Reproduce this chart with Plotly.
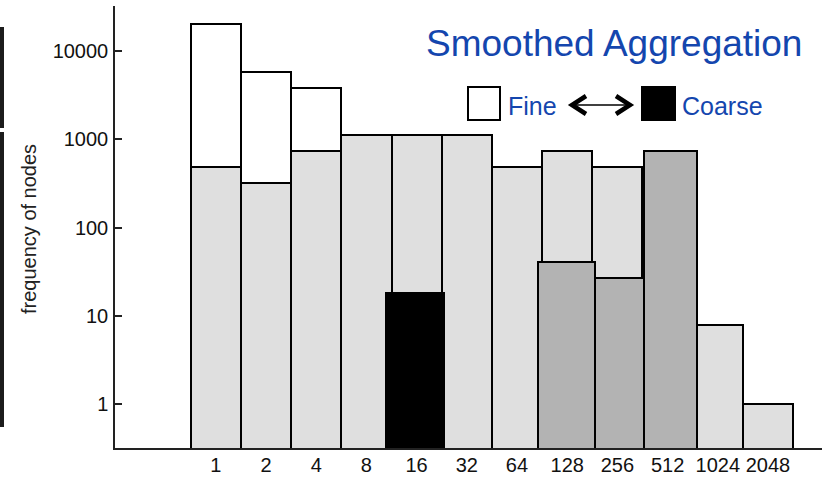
import plotly.graph_objects as go

# ---- data ----
categories = ["1", "2", "4", "8", "16", "32", "64", "128", "256", "512", "1024", "2048"]
fine_cats = ["1", "2", "4"]
fine_vals = [20000, 5800, 3800]
light_vals = [485, 320, 740, 1120, 1120, 1120, 485, 740, 485, 215, 7.8, 1.0]
dark_cats = ["128", "256", "512"]
dark_vals = [41, 27, 740]
coarse_cats = ["16"]
coarse_vals = [18]
ytick_vals = [1, 10, 100, 1000, 10000]
ytick_text = ["1", "10", "100", "1000", "10000"]

# ---- styles ----
dark_offsets = [-0.58, -0.446, -0.47]
dark_widths = [1.135, 0.976, 1.056]
coarse_offsets = [-0.61]
coarse_widths = [1.155]

FONT = "Liberation Sans, Arial, Helvetica, sans-serif"
BLUE = "#1446ae"
idx = {c: i for i, c in enumerate(categories)}

W, H = 827, 477
L, R, T, B = 115, 5, 6, 29
PW, PH = W - L - R, H - T - B


def px(x):
    return (x - L) / PW


def py(y):
    return (H - B - y) / PH


fig = go.Figure()
line = dict(color="black", width=2)
fig.add_trace(go.Bar(x=[idx[c] for c in fine_cats], y=fine_vals, width=1, offset=-0.5,
                     marker=dict(color="white", line=line), showlegend=False))
fig.add_trace(go.Bar(x=list(range(len(categories))), y=light_vals, width=1, offset=-0.5,
                     marker=dict(color="#dfdfdf", line=line), showlegend=False))
fig.add_trace(go.Bar(x=[idx[c] for c in dark_cats], y=dark_vals, width=dark_widths, offset=dark_offsets,
                     marker=dict(color="#b3b3b3", line=line), showlegend=False))
fig.add_trace(go.Bar(x=[idx[c] for c in coarse_cats], y=coarse_vals, width=coarse_widths, offset=coarse_offsets,
                     marker=dict(color="black", line=line), showlegend=False))

shapes = []
# legend squares
shapes.append(dict(type="rect", xref="paper", yref="paper", x0=px(468), x1=px(500), y0=py(120), y1=py(87),
                   line=dict(color="black", width=2), fillcolor="white"))
shapes.append(dict(type="rect", xref="paper", yref="paper", x0=px(642), x1=px(675), y0=py(120), y1=py(87),
                   line=dict(color="black", width=2), fillcolor="black"))
# double arrow
shapes.append(dict(type="line", xref="paper", yref="paper", x0=px(575), x1=px(628), y0=py(105), y1=py(105),
                   line=dict(color="black", width=1.5)))
shapes.append(dict(type="path", xref="paper", yref="paper",
                   path=f"M {px(586)} {py(96)} L {px(572)} {py(105)} L {px(586)} {py(114)}",
                   line=dict(color="black", width=4.5)))
shapes.append(dict(type="path", xref="paper", yref="paper",
                   path=f"M {px(616)} {py(96)} L {px(630)} {py(105)} L {px(616)} {py(114)}",
                   line=dict(color="black", width=4.5)))
# left edge dark strips
shapes.append(dict(type="rect", xref="paper", yref="paper", x0=px(0), x1=px(4), y0=py(128), y1=py(27),
                   line=dict(width=0), fillcolor="#1c1c1c"))
shapes.append(dict(type="rect", xref="paper", yref="paper", x0=px(0), x1=px(4), y0=py(427), y1=py(132),
                   line=dict(width=0), fillcolor="#1c1c1c"))

annotations = [
    dict(text="Smoothed Aggregation", xref="paper", yref="paper", x=px(424), y=py(43),
         xanchor="left", yanchor="middle", showarrow=False, font=dict(family=FONT, size=37, color=BLUE)),
    dict(text="Fine", xref="paper", yref="paper", x=px(506), y=py(106),
         xanchor="left", yanchor="middle", showarrow=False, font=dict(family=FONT, size=25, color=BLUE)),
    dict(text="Coarse", xref="paper", yref="paper", x=px(680), y=py(106),
         xanchor="left", yanchor="middle", showarrow=False, font=dict(family=FONT, size=25, color=BLUE)),
    dict(text="frequency of nodes", xref="paper", yref="paper", x=px(29), y=py(229),
         xanchor="center", yanchor="middle", textangle=-90, showarrow=False,
         font=dict(family=FONT, size=20, color="#222")),
]

tickfont = dict(family=FONT, size=20, color="#111")

fig.update_layout(
    width=W, height=H, margin=dict(l=L, r=R, t=T, b=B),
    paper_bgcolor="white", plot_bgcolor="white",
    barmode="overlay", bargap=0,
    shapes=shapes, annotations=annotations,
    font=dict(family=FONT, size=20, color="#111"),
    xaxis=dict(range=[-2.008, 12.076], tickmode="array", tickvals=list(range(len(categories))),
               ticktext=categories, showline=True, linecolor="#222", linewidth=1.5,
               showgrid=False, zeroline=False, ticks="", ticklabelstandoff=-2,
               tickfont=tickfont, automargin=False),
    yaxis=dict(type="log", range=[-0.496, 4.51], tickmode="array", tickvals=ytick_vals,
               ticktext=ytick_text, showline=True, linecolor="#222", linewidth=1.5,
               showgrid=False, zeroline=False, ticks="inside", ticklen=7, tickwidth=1.5,
               tickcolor="#222", ticklabelstandoff=1, tickfont=tickfont, automargin=False),
)

fig.write_html("out.html")
